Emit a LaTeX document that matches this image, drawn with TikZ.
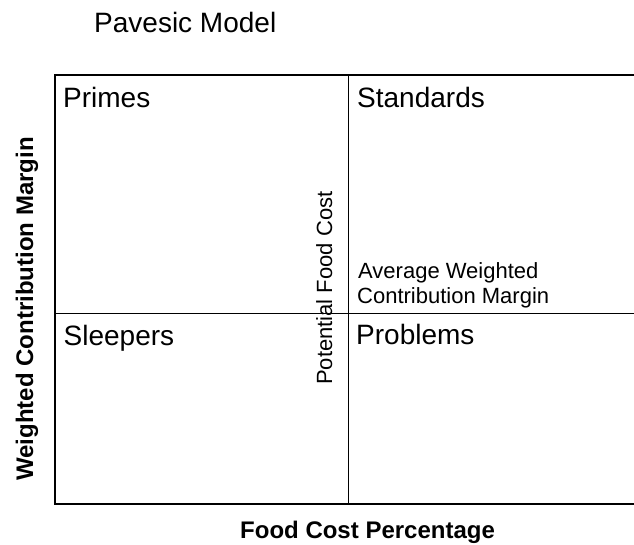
\documentclass[tikz,border=0pt]{standalone}
\usepackage{fontspec}
\setmainfont{Liberation Sans}
\begin{document}
\begin{tikzpicture}[x=1pt,y=-1pt,
  lbl/.style={inner sep=0pt,anchor=base west,font=\fontsize{#1}{#1}\selectfont},
  axislbl/.style={inner sep=0pt,anchor=base west,font=\fontsize{24}{24}\selectfont\bfseries},
  frame/.style={line width=2pt,line cap=rect},
  divider/.style={line width=1pt}]
\useasboundingbox[fill=white] (0,0) rectangle (634,544);
% outer frame (right side runs off the picture)
\coordinate (tl) at (55,75);
\coordinate (bl) at (55,504);
\coordinate (tr) at (634,75);
\coordinate (br) at (634,504);
\draw[frame] (tr) -- (tl) -- (bl) -- (br);
% dividers
\coordinate (vt) at (348,75);
\coordinate (vb) at (348,504);
\coordinate (hl) at (55,313);
\coordinate (hr) at (634,313);
\draw[divider] (vt) -- (vb);
\draw[divider] (hl) -- (hr);
% texts
\node[lbl=28] (title) at (94,32) {Pavesic Model};
\node[lbl=28] (primes) at (63,107) {Primes};
\node[lbl=28] (standards) at (357,107) {Standards};
\node[lbl=28] (sleepers) at (63.5,345) {Sleepers};
\node[lbl=28] (problems) at (356,344) {Problems};
\node[lbl=22] (avg1) at (358,278) {Average Weighted};
\node[lbl=22] (avg2) at (357,303) {Contribution Margin};
\node[lbl=22,rotate=90] (pfc) at (332,385) {Potential Food Cost};
\node[axislbl,rotate=90] (wcm) at (33,481) {Weighted Contribution Margin};
\node[axislbl] (fcp) at (240,538) {Food Cost Percentage};
\end{tikzpicture}
\end{document}
